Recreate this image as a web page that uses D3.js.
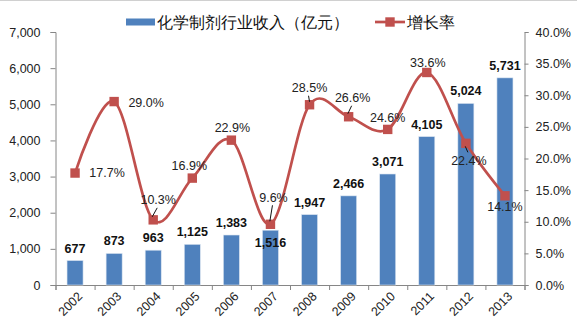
<!DOCTYPE html>
<html>
<head>
<meta charset="utf-8">
<script src="https://cdn.jsdelivr.net/npm/d3@7"></script>
<style>
  html, body { margin: 0; padding: 0; background: #fff; }
  svg { display: block; }
  text { font-family: "Liberation Sans", Arial, sans-serif; }
</style>
</head>
<body>
<svg id="chart" width="577" height="329"></svg>
<script>
// Chemical preparations industry revenue (100 million yuan) and its growth rate
const years = ["2002","2003","2004","2005","2006","2007","2008","2009","2010","2011","2012","2013"];
const revenue = [677, 873, 963, 1125, 1383, 1516, 1947, 2466, 3071, 4105, 5024, 5731];
const growth = [17.7, 29.0, 10.3, 16.9, 22.9, 9.6, 28.5, 26.6, 24.6, 33.6, 22.4, 14.1];
const leftTicks = [0, 1000, 2000, 3000, 4000, 5000, 6000, 7000];
const rightTicks = [0, 5, 10, 15, 20, 25, 30, 35, 40];
const seriesNames = ["化学制剂行业收入（亿元）", "增长率"];

// label placement (offsets from the marker, in px) and leader-line flags
const pctLabelOffset = [[32,0],[32,1],[5,-20],[-3,-12],[1,-13],[3,-27],[0,-17],[4,-19],[0,-12],[1,-10],[3,17],[0,11]];
const pctLeader = [false,false,true,false,false,true,true,true,false,false,true,false];
const barLabelShift = [0,0,0,0,0,25,0,0,0,0,0,0];

const BLUE = "#4F81BD", RED = "#C0504D", AXIS = "#868686";
const svg = d3.select("#chart");
const plot = {left: 55.5, right: 524.5, top: 32, bottom: 285};

const x = d3.scaleBand().domain(years).range([plot.left, plot.right]).padding(0);
const xIdx = d3.scaleLinear().domain([0, years.length]).range([plot.left, plot.right]);
const yL = d3.scaleLinear().domain([0, 7000]).range([plot.bottom, plot.top]);
const yR = d3.scaleLinear().domain([0, 40]).range([plot.bottom, plot.top]);
const cx = d => x(d) + x.bandwidth() / 2;

// thin frame line at the top of the chart area
svg.append("line").attr("x1", 0).attr("x2", 577).attr("y1", 0.5).attr("y2", 0.5)
  .attr("stroke", "#d0d0d0");

// axes
const styleAxis = g => {
  g.select(".domain").attr("stroke", AXIS);
  g.selectAll(".tick line").attr("stroke", AXIS);
  g.selectAll("text").attr("fill", "#222").attr("font-size", "12.5px")
    .attr("font-family", "'Liberation Sans', Arial, sans-serif");
};
svg.append("g").attr("transform", `translate(${plot.left},0)`)
  .call(d3.axisLeft(yL).tickValues(leftTicks).tickFormat(d3.format(",")).tickSize(5).tickSizeOuter(5).tickPadding(10))
  .call(styleAxis);
svg.append("g").attr("transform", `translate(${plot.right},0)`)
  .call(d3.axisRight(yR).tickValues(rightTicks).tickFormat(d => d.toFixed(1) + "%").tickSize(4).tickSizeOuter(4).tickPadding(7))
  .call(styleAxis);
svg.append("g").attr("transform", `translate(0,${plot.bottom})`)
  .call(d3.axisBottom(xIdx).ticks(years.length).tickFormat("").tickSize(5).tickSizeOuter(5))
  .call(styleAxis);

// year labels, rotated
svg.append("g").selectAll("text").data(years).join("text")
  .attr("transform", d => `translate(${cx(d) + 5},${plot.bottom + 9}) rotate(-45)`)
  .attr("text-anchor", "end").attr("dy", "0.35em")
  .attr("font-size", "12.5px").attr("fill", "#222")
  .text(d => d);

// revenue bars
const barW = x.bandwidth() * 0.41;
svg.append("g").selectAll("rect").data(years).join("rect")
  .attr("x", d => cx(d) - barW / 2)
  .attr("width", barW)
  .attr("y", (d, i) => yL(revenue[i]))
  .attr("height", (d, i) => yL(0) - yL(revenue[i]))
  .attr("fill", BLUE).attr("stroke", "#dbe5f1").attr("stroke-width", 0.6);

// growth line (smoothed) and square markers
const pts = years.map((d, i) => [cx(d), yR(growth[i])]);
svg.append("path").datum(pts)
  .attr("d", d3.line().curve(d3.curveCatmullRom.alpha(0)))
  .attr("fill", "none").attr("stroke", RED).attr("stroke-width", 2.7);
svg.append("g").selectAll("rect").data(pts).join("rect")
  .attr("x", d => d[0] - 4.7).attr("y", d => d[1] - 4.7)
  .attr("width", 9.4).attr("height", 9.4)
  .attr("fill", RED);

// revenue value labels
svg.append("g").selectAll("text").data(years).join("text")
  .attr("x", d => cx(d))
  .attr("y", (d, i) => yL(revenue[i]) - 8 + barLabelShift[i])
  .attr("text-anchor", "middle")
  .attr("font-size", "12.5px").attr("font-weight", "bold").attr("fill", "#111")
  .text((d, i) => d3.format(",")(revenue[i]));

// growth rate labels with short leader lines
const lbl = svg.append("g");
pts.forEach((p, i) => {
  const [dx, dy] = pctLabelOffset[i];
  const lx = p[0] + dx, ly = p[1] + dy;
  if (pctLeader[i]) {
    const sx = lx - 1, sy = dy < 0 ? ly + 8 : ly - 8;
    const ex = p[0] - dx * 0.2, ey = dy < 0 ? p[1] - 3 : p[1] + 3;
    lbl.append("line").attr("x1", sx).attr("y1", sy).attr("x2", ex).attr("y2", ey)
      .attr("stroke", "#111").attr("stroke-width", 1);
  }
  lbl.append("text").attr("x", lx).attr("y", ly).attr("dy", "0.35em")
    .attr("text-anchor", "middle").attr("font-size", "12.5px").attr("fill", "#222")
    .text(growth[i].toFixed(1) + "%");
});

// legend
const lg = svg.append("g").attr("font-family", "'Noto Sans CJK SC', sans-serif");
lg.append("rect").attr("x", 126).attr("y", 18.5).attr("width", 29).attr("height", 7).attr("fill", BLUE);
lg.append("text").attr("x", 157).attr("y", 22).attr("dy", "0.36em")
  .attr("font-size", "15.5px").attr("fill", "#111").text(seriesNames[0]);
lg.append("line").attr("x1", 375).attr("x2", 405).attr("y1", 22).attr("y2", 22)
  .attr("stroke", RED).attr("stroke-width", 2.7);
lg.append("rect").attr("x", 385.3).attr("y", 17.3).attr("width", 9.4).attr("height", 9.4).attr("fill", RED);
lg.append("text").attr("x", 407).attr("y", 22).attr("dy", "0.36em")
  .attr("font-size", "15.5px").attr("fill", "#111").text(seriesNames[1]);
</script>
</body>
</html>
